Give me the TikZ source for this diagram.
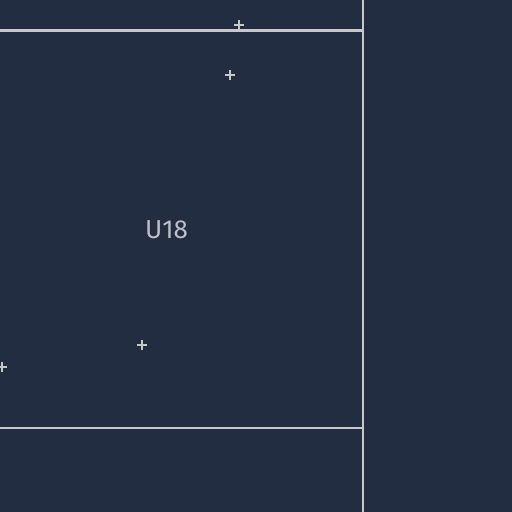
\documentclass[tikz,border=0pt]{standalone}
\usepackage{fontspec}
\setmainfont{Fira Sans}
\definecolor{boardbg}{HTML}{222D42}
\definecolor{silk}{HTML}{C8C8C8}
\definecolor{labelgrey}{HTML}{BCC0C6}
\tikzset{
  outline/.style={draw=silk,line width=2.3pt},
  cross/.style={draw=silk,line width=1.6pt},
}
\begin{document}
\begin{tikzpicture}[x=1pt,y=-1pt]
  \fill[boardbg] (0,0) rectangle (512,512);
  \useasboundingbox (0,0) rectangle (512,512);
  % outline of the part
  \coordinate (tl) at (0,30.5);
  \coordinate (tr) at (363.3,30.5);
  \coordinate (bl) at (0,428);
  \coordinate (br) at (363.3,428);
  \coordinate (vtop) at (363.3,0);
  \coordinate (vbot) at (363.3,512);
  \draw[outline] (tl) -- (tr);
  \draw[outline] (bl) -- (br);
  \draw[outline] (vtop) -- (vbot);
  \node[text=labelgrey,font=\fontsize{26}{30}\selectfont] (ref) at (166.5,229.5) {U18};
  % small crosses
  \foreach \px/\py in {239/25,230/75,142/345,2/367}
    \draw[cross] (\px-5,\py) -- (\px+5,\py) (\px,\py-5) -- (\px,\py+5);
\end{tikzpicture}
\end{document}
